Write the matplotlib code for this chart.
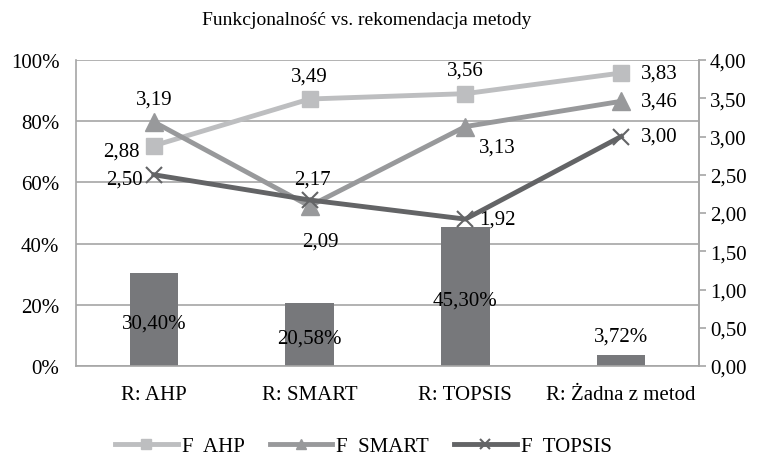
import matplotlib.pyplot as plt
from matplotlib.ticker import FuncFormatter

plt.rcParams['font.family'] = ['Liberation Serif', 'DejaVu Serif']

categories = ['R: AHP', 'R: SMART', 'R: TOPSIS', 'R: Żadna z metod']
rec_share = [30.40, 20.58, 45.30, 3.72]
f_ahp = [2.88, 3.49, 3.56, 3.83]
f_smart = [3.19, 2.09, 3.13, 3.46]
f_topsis = [2.50, 2.17, 1.92, 3.00]


def pl(v, fmt='{:.2f}'):
    return fmt.format(v).replace('.', ',')


fs = 15
fig = plt.figure(figsize=(7.57, 4.60), dpi=100)
ax = fig.add_axes([76 / 757, 93 / 460, 623 / 757, 306 / 460])
ax2 = ax.twinx()

x = list(range(len(categories)))
grid_c = '#a6a6a6'
bar_c = '#77787b'
c_ahp, c_smart, c_topsis = '#bdbec0', '#98999b', '#636466'

ax.bar(x, rec_share, width=0.31, color=bar_c, zorder=2)
ax.set_ylim(0, 100)
ax.set_xlim(-0.5, 3.5)
ax.set_yticks(range(0, 101, 20))
ax.yaxis.set_major_formatter(FuncFormatter(lambda v, p: f'{int(v)}%'))
ax.grid(axis='y', color=grid_c, lw=1.2, zorder=0)
ax.set_axisbelow(True)
ax.set_xticks(x)
ax.set_xticklabels(categories)
ax.tick_params(axis='both', length=0, labelsize=fs, pad=12)
ax.tick_params(axis='x', pad=14)
ax.spines['top'].set_visible(False)
for s in ['left', 'bottom', 'right']:
    ax.spines[s].set_color(grid_c)
    ax.spines[s].set_linewidth(1.2)

for i, v in enumerate(rec_share):
    if v > 10:
        ax.text(i, v / 2 - 1, pl(v) + '%', ha='center', va='center', fontsize=fs, zorder=5)
    else:
        ax.text(i, v + 3, pl(v) + '%', ha='center', va='bottom', fontsize=fs, zorder=5)

ax2.set_ylim(0, 4)
ax2.set_yticks([i * 0.5 for i in range(9)])
ax2.yaxis.set_major_formatter(FuncFormatter(lambda v, p: pl(v)))
ax2.tick_params(axis='y', length=5, color=grid_c, width=1.2, labelsize=fs, pad=3)
for s in ['top', 'left', 'bottom']:
    ax2.spines[s].set_visible(False)
ax2.spines['right'].set_color(grid_c)
ax2.spines['right'].set_linewidth(1.2)

ax2.plot(x, f_ahp, color=c_ahp, lw=3.5, marker='s', ms=12, label='F  AHP', zorder=3)
ax2.plot(x, f_smart, color=c_smart, lw=3.5, marker='^', ms=13, label='F  SMART', zorder=4)
ax2.plot(x, f_topsis, color=c_topsis, lw=3.5, marker='x', ms=12, mew=1.5, label='F  TOPSIS', zorder=5)

# label placement per point: (dx in points, dy in points, ha, va)
pos_ahp = [(-10, -4, 'right', 'center'), (0, 10, 'center', 'bottom'),
           (0, 10, 'center', 'bottom'), (14, 0, 'left', 'center')]
pos_smart = [(0, 10, 'center', 'bottom'), (8, -18, 'center', 'top'),
             (10, -8, 'left', 'top'), (14, 0, 'left', 'center')]
pos_topsis = [(-8, -3, 'right', 'center'), (2, 8, 'center', 'bottom'),
              (10, 0, 'left', 'center'), (14, 0, 'left', 'center')]
for vals, poss in [(f_ahp, pos_ahp), (f_smart, pos_smart), (f_topsis, pos_topsis)]:
    for i, (v, (dx, dy, ha, va)) in enumerate(zip(vals, poss)):
        ax2.annotate(pl(v), (i, v), xytext=(dx, dy), textcoords='offset points',
                     ha=ha, va=va, fontsize=fs, zorder=6)

fig.text(0.485, 0.955, 'Funkcjonalność vs. rekomendacja metody', ha='center', va='center', fontsize=14)
fig.legend(loc='center', bbox_to_anchor=(0.48, 0.028), ncol=3, frameon=False,
           fontsize=fs, handlelength=3, markerscale=0.6, columnspacing=1.2, handletextpad=0.2)

fig.savefig('out.png', dpi=100)
